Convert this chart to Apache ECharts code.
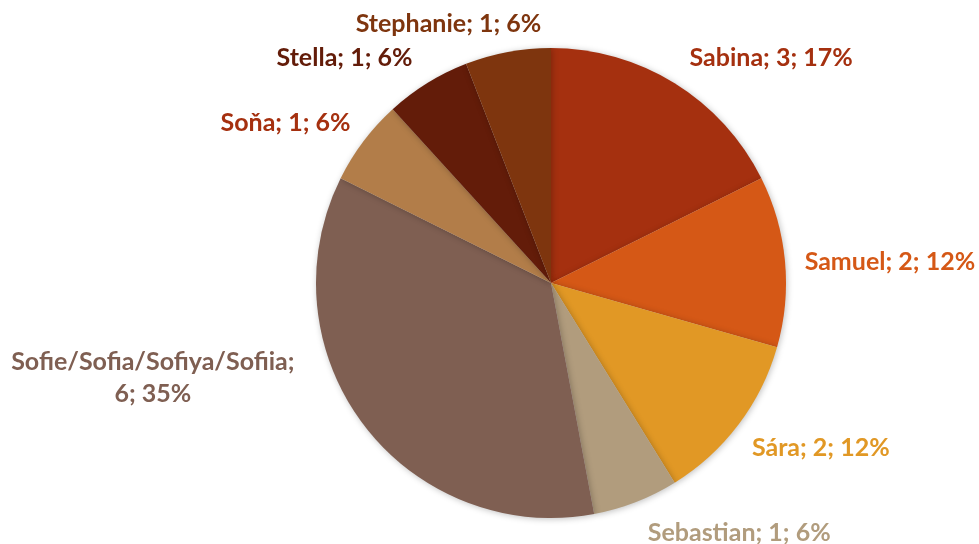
<!DOCTYPE html>
<html>
<head>
<meta charset="utf-8">
<script src="https://cdn.jsdelivr.net/npm/echarts@6/dist/echarts.min.js"></script>
<style>
  html, body { margin: 0; padding: 0; background: #fff; }
  #chart { width: 979px; height: 544px; }
</style>
</head>
<body>
<div id="chart"></div>
<script>
// names, counts and shown percentages, clockwise from 12 o'clock
var names = ['Sabina', 'Samuel', 'Sára', 'Sebastian', 'Sofie/Sofia/Sofiya/Sofiia', 'Soňa', 'Stella', 'Stephanie'];
var counts = [3, 2, 2, 1, 6, 1, 1, 1];
var percents = ['17%', '12%', '12%', '6%', '35%', '6%', '6%', '6%'];
var colors = ['#A5300F', '#D55816', '#E19825', '#B19C7D', '#7F5F52', '#B27D49', '#631C09', '#7E350E'];
var labelColors = ['#A5300F', '#D55816', '#E19825', '#B19C7D', '#7F5F52', '#A5300F', '#631C09', '#7E350E'];

var chart = echarts.init(document.getElementById('chart'));

var data = [];
for (var i = 0; i < names.length; i++) {
  var txt;
  if (i == 4) txt = '{c|' + names[i] + ';}\n{c|' + counts[i] + '; ' + percents[i] + '}';
  else txt = '{c|' + names[i] + '; ' + counts[i] + '; ' + percents[i] + '}';
  data.push({
    name: names[i],
    value: counts[i],
    itemStyle: { color: colors[i] },
    label: {
      color: labelColors[i],
      formatter: txt
    }
  });
}

// nudge labels to where the original put them
var nudge = [[-6, 0], [-2, 5], [-12, 8], [-4, 6], [-40, -65], [16, 0], [6, 0], [44, 1]];

chart.setOption({
  animation: false,
  series: [{
    type: 'pie',
    center: [551, 283],
    radius: 235,
    startAngle: 90,
    clockwise: true,
    itemStyle: {
      shadowBlur: 6,
      shadowColor: 'rgba(0,0,0,0.25)',
      shadowOffsetX: 1,
      shadowOffsetY: 1
    },
    label: {
      show: true,
      position: 'outside',
      fontFamily: 'Lato',
      fontWeight: 'bold',
      fontSize: 25,
      lineHeight: 32,
      overflow: 'none',
      rich: {
        c: { align: 'center', fontFamily: 'Lato', fontWeight: 'bold', fontSize: 25, lineHeight: 32 }
      }
    },
    labelLine: { show: false, length: 30, length2: 0 },
    labelLayout: function (p) {
      return { dx: nudge[p.dataIndex][0], dy: nudge[p.dataIndex][1] };
    },
    data: data
  }]
});
</script>
</body>
</html>
